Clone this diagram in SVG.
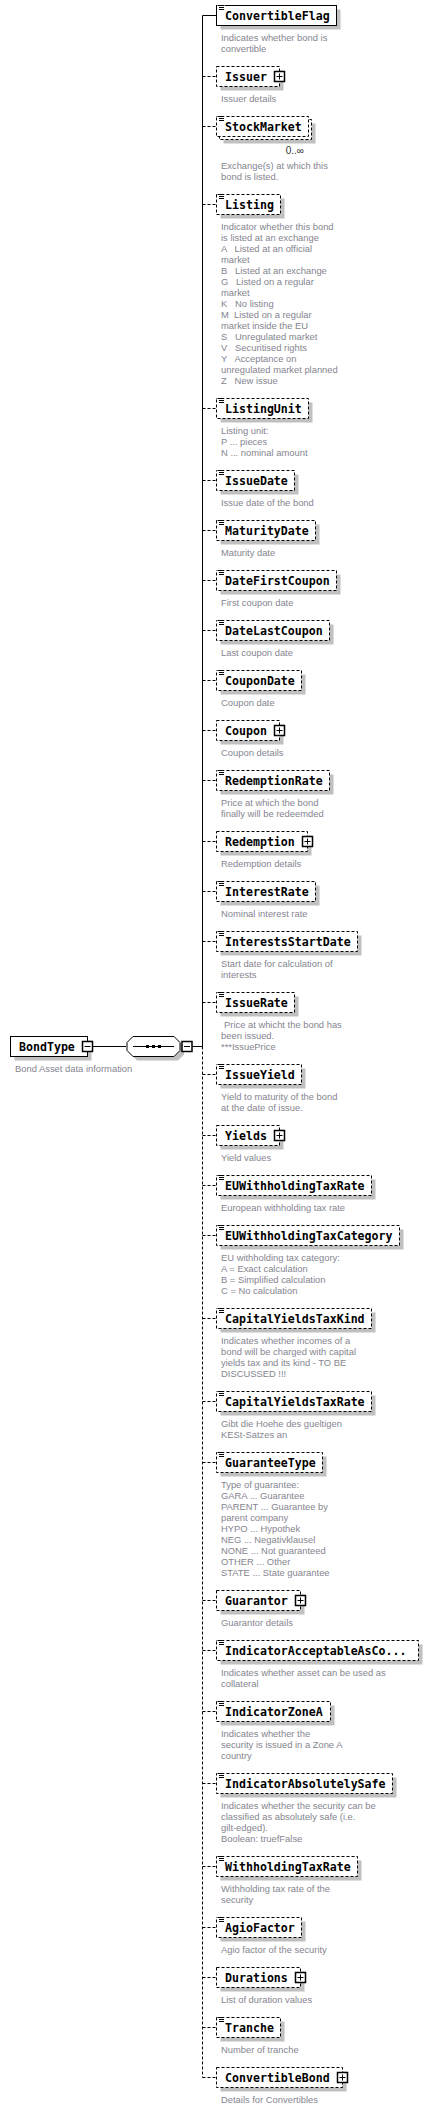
<svg xmlns="http://www.w3.org/2000/svg" xmlns:xlink="http://www.w3.org/1999/xlink" width="432" height="2110" viewBox="0 0 432 2110">
<style>
.b{fill:#fff;stroke:#000;stroke-width:1}
.o{stroke-dasharray:3,2}
.sh{fill:#c0c0c0}
.l{font-family:"DejaVu Sans Mono",monospace;font-weight:bold;font-size:11.6px;fill:#000}
.d{font-family:"Liberation Sans",Arial,sans-serif;font-size:9.4px;fill:#858590}
.occ{font-family:"Liberation Sans",Arial,sans-serif;font-size:10px;fill:#333}
.c{fill:none;stroke:#000;stroke-width:1}
.cd{fill:none;stroke:#000;stroke-width:1;stroke-dasharray:3,2}
</style>
<defs>
<g id="doc"><rect x="1" y="-0.5" width="7" height="5.5" fill="#fff"/><path d="M1.5,0H7.5M2.5,2H7.5M2.5,4H7.5" stroke="#000" stroke-width="1"/></g>
<g id="plus"><rect x="-5" y="-5" width="10" height="10" fill="#fff" stroke="#000" stroke-width="1.5"/><path d="M-3,0H3M0,-3V3" stroke="#000" stroke-width="1"/></g>
<g id="minus"><rect x="-5" y="-5" width="10" height="10" fill="#fff" stroke="#000" stroke-width="1.5"/><path d="M-3,0H3" stroke="#000" stroke-width="1"/></g>
</defs>

<g id="connectors">
<path class="c" d="M202.5,15.5V1046.5"/>
<path class="cd" d="M202.5,1046.5V2077.5"/>
<path class="c" d="M202.5,15.5H216.5"/>
<path class="cd" d="M202.5,76.5H216.5M202.5,126.5H216.5M202.5,204.5H216.5M202.5,408.5H216.5M202.5,480.5H216.5M202.5,530.5H216.5M202.5,580.5H216.5M202.5,630.5H216.5M202.5,680.5H216.5M202.5,730.5H216.5M202.5,780.5H216.5M202.5,841.5H216.5M202.5,891.5H216.5M202.5,941.5H216.5M202.5,1002.5H216.5M202.5,1074.5H216.5M202.5,1135.5H216.5M202.5,1185.5H216.5M202.5,1235.5H216.5M202.5,1318.5H216.5M202.5,1401.5H216.5M202.5,1462.5H216.5M202.5,1600.5H216.5M202.5,1650.5H216.5M202.5,1711.5H216.5M202.5,1783.5H216.5M202.5,1866.5H216.5M202.5,1927.5H216.5M202.5,1977.5H216.5M202.5,2027.5H216.5M202.5,2077.5H216.5"/>
<path class="c" d="M92.5,1046.5H126M192,1046.5H202.5"/>
</g>

<g id="n-BondType">
<rect class="sh" x="14.5" y="1040.5" width="77" height="20"/>
<rect class="b" x="10.5" y="1036.5" width="77" height="20"/>
<text class="l" x="19" y="1051">BondType</text>
<use xlink:href="#minus" x="87.5" y="1046.5"/>
<text class="d" x="15" y="1071.5">Bond Asset data information</text>
</g>

<g id="sequence">
<path class="sh" d="M137,1040.5H178L184,1046.5V1054.5L178,1060.5H137L131,1054.5V1046.5Z"/>
<path class="b" d="M133,1036.5H174L180,1042.5V1050.5L174,1056.5H133L127,1050.5V1042.5Z"/>
<path d="M133,1046.5H174" stroke="#000" stroke-width="1"/>
<rect x="146" y="1045" width="3" height="3" fill="#000"/>
<rect x="152" y="1045" width="3" height="3" fill="#000"/>
<rect x="158" y="1045" width="3" height="3" fill="#000"/>
<use xlink:href="#minus" x="187" y="1046.5"/>
</g>

<g id="n-ConvertibleFlag">
<rect class="sh" x="220.5" y="9.5" width="120" height="20"/>
<rect class="b" x="216.5" y="5.5" width="120" height="20"/>
<use xlink:href="#doc" x="216.5" y="5.5"/>
<text class="l" x="225" y="20">ConvertibleFlag</text>
<text class="d" x="221" y="40.5">Indicates whether bond is</text>
<text class="d" x="221" y="51.5">convertible</text>
</g>

<g id="n-Issuer">
<rect class="sh" x="220.5" y="70.5" width="63" height="20"/>
<rect class="b o" x="216.5" y="66.5" width="63" height="20"/>
<text class="l" x="225" y="81">Issuer</text>
<use xlink:href="#plus" x="279.5" y="76.5"/>
<text class="d" x="221" y="101.5">Issuer details</text>
</g>

<g id="n-StockMarket">
<rect class="sh" x="223.5" y="123.5" width="92" height="20"/>
<rect class="b o" x="219.5" y="119.5" width="92" height="20"/>
<rect class="b o" x="216.5" y="116.5" width="92" height="20"/>
<use xlink:href="#doc" x="216.5" y="116.5"/>
<text class="l" x="225" y="131">StockMarket</text>
<text class="occ" x="304" y="154" text-anchor="end">0..∞</text>
<text class="d" x="221" y="168.5">Exchange(s) at which this</text>
<text class="d" x="221" y="179.5">bond is listed.</text>
</g>

<g id="n-Listing">
<rect class="sh" x="220.5" y="198.5" width="64" height="20"/>
<rect class="b o" x="216.5" y="194.5" width="64" height="20"/>
<use xlink:href="#doc" x="216.5" y="194.5"/>
<text class="l" x="225" y="209">Listing</text>
<text class="d" x="221" y="229.5">Indicator whether this bond</text>
<text class="d" x="221" y="240.5">is listed at an exchange</text>
<text class="d" x="221" y="251.5" xml:space="preserve">A   Listed at an official</text>
<text class="d" x="221" y="262.5">market</text>
<text class="d" x="221" y="273.5" xml:space="preserve">B   Listed at an exchange</text>
<text class="d" x="221" y="284.5" xml:space="preserve">G   Listed on a regular</text>
<text class="d" x="221" y="295.5">market</text>
<text class="d" x="221" y="306.5" xml:space="preserve">K   No listing</text>
<text class="d" x="221" y="317.5" xml:space="preserve">M  Listed on a regular</text>
<text class="d" x="221" y="328.5">market inside the EU</text>
<text class="d" x="221" y="339.5" xml:space="preserve">S   Unregulated market</text>
<text class="d" x="221" y="350.5" xml:space="preserve">V   Securitised rights</text>
<text class="d" x="221" y="361.5" xml:space="preserve">Y   Acceptance on</text>
<text class="d" x="221" y="372.5">unregulated market planned</text>
<text class="d" x="221" y="383.5" xml:space="preserve">Z   New issue</text>
</g>

<g id="n-ListingUnit">
<rect class="sh" x="220.5" y="402.5" width="92" height="20"/>
<rect class="b o" x="216.5" y="398.5" width="92" height="20"/>
<use xlink:href="#doc" x="216.5" y="398.5"/>
<text class="l" x="225" y="413">ListingUnit</text>
<text class="d" x="221" y="433.5">Listing unit:</text>
<text class="d" x="221" y="444.5">P ... pieces</text>
<text class="d" x="221" y="455.5">N ... nominal amount</text>
</g>

<g id="n-IssueDate">
<rect class="sh" x="220.5" y="474.5" width="78" height="20"/>
<rect class="b o" x="216.5" y="470.5" width="78" height="20"/>
<use xlink:href="#doc" x="216.5" y="470.5"/>
<text class="l" x="225" y="485">IssueDate</text>
<text class="d" x="221" y="505.5">Issue date of the bond</text>
</g>

<g id="n-MaturityDate">
<rect class="sh" x="220.5" y="524.5" width="99" height="20"/>
<rect class="b o" x="216.5" y="520.5" width="99" height="20"/>
<use xlink:href="#doc" x="216.5" y="520.5"/>
<text class="l" x="225" y="535">MaturityDate</text>
<text class="d" x="221" y="555.5">Maturity date</text>
</g>

<g id="n-DateFirstCoupon">
<rect class="sh" x="220.5" y="574.5" width="120" height="20"/>
<rect class="b o" x="216.5" y="570.5" width="120" height="20"/>
<use xlink:href="#doc" x="216.5" y="570.5"/>
<text class="l" x="225" y="585">DateFirstCoupon</text>
<text class="d" x="221" y="605.5">First coupon date</text>
</g>

<g id="n-DateLastCoupon">
<rect class="sh" x="220.5" y="624.5" width="113" height="20"/>
<rect class="b o" x="216.5" y="620.5" width="113" height="20"/>
<use xlink:href="#doc" x="216.5" y="620.5"/>
<text class="l" x="225" y="635">DateLastCoupon</text>
<text class="d" x="221" y="655.5">Last coupon date</text>
</g>

<g id="n-CouponDate">
<rect class="sh" x="220.5" y="674.5" width="85" height="20"/>
<rect class="b o" x="216.5" y="670.5" width="85" height="20"/>
<use xlink:href="#doc" x="216.5" y="670.5"/>
<text class="l" x="225" y="685">CouponDate</text>
<text class="d" x="221" y="705.5">Coupon date</text>
</g>

<g id="n-Coupon">
<rect class="sh" x="220.5" y="724.5" width="63" height="20"/>
<rect class="b o" x="216.5" y="720.5" width="63" height="20"/>
<text class="l" x="225" y="735">Coupon</text>
<use xlink:href="#plus" x="279.5" y="730.5"/>
<text class="d" x="221" y="755.5">Coupon details</text>
</g>

<g id="n-RedemptionRate">
<rect class="sh" x="220.5" y="774.5" width="113" height="20"/>
<rect class="b o" x="216.5" y="770.5" width="113" height="20"/>
<use xlink:href="#doc" x="216.5" y="770.5"/>
<text class="l" x="225" y="785">RedemptionRate</text>
<text class="d" x="221" y="805.5">Price at which the bond</text>
<text class="d" x="221" y="816.5">finally will be redeemded</text>
</g>

<g id="n-Redemption">
<rect class="sh" x="220.5" y="835.5" width="91" height="20"/>
<rect class="b o" x="216.5" y="831.5" width="91" height="20"/>
<text class="l" x="225" y="846">Redemption</text>
<use xlink:href="#plus" x="307.5" y="841.5"/>
<text class="d" x="221" y="866.5">Redemption details</text>
</g>

<g id="n-InterestRate">
<rect class="sh" x="220.5" y="885.5" width="99" height="20"/>
<rect class="b o" x="216.5" y="881.5" width="99" height="20"/>
<use xlink:href="#doc" x="216.5" y="881.5"/>
<text class="l" x="225" y="896">InterestRate</text>
<text class="d" x="221" y="916.5">Nominal interest rate</text>
</g>

<g id="n-InterestsStartDate">
<rect class="sh" x="220.5" y="935.5" width="141" height="20"/>
<rect class="b o" x="216.5" y="931.5" width="141" height="20"/>
<use xlink:href="#doc" x="216.5" y="931.5"/>
<text class="l" x="225" y="946">InterestsStartDate</text>
<text class="d" x="221" y="966.5">Start date for calculation of</text>
<text class="d" x="221" y="977.5">interests</text>
</g>

<g id="n-IssueRate">
<rect class="sh" x="220.5" y="996.5" width="78" height="20"/>
<rect class="b o" x="216.5" y="992.5" width="78" height="20"/>
<use xlink:href="#doc" x="216.5" y="992.5"/>
<text class="l" x="225" y="1007">IssueRate</text>
<text class="d" x="224" y="1027.5">Price at whicht the bond has</text>
<text class="d" x="221" y="1038.5">been issued.</text>
<text class="d" x="221" y="1049.5">***IssuePrice</text>
</g>

<g id="n-IssueYield">
<rect class="sh" x="220.5" y="1068.5" width="85" height="20"/>
<rect class="b o" x="216.5" y="1064.5" width="85" height="20"/>
<use xlink:href="#doc" x="216.5" y="1064.5"/>
<text class="l" x="225" y="1079">IssueYield</text>
<text class="d" x="221" y="1099.5">Yield to maturity of the bond</text>
<text class="d" x="221" y="1110.5">at the date of issue.</text>
</g>

<g id="n-Yields">
<rect class="sh" x="220.5" y="1129.5" width="63" height="20"/>
<rect class="b o" x="216.5" y="1125.5" width="63" height="20"/>
<text class="l" x="225" y="1140">Yields</text>
<use xlink:href="#plus" x="279.5" y="1135.5"/>
<text class="d" x="221" y="1160.5">Yield values</text>
</g>

<g id="n-EUWithholdingTaxRate">
<rect class="sh" x="220.5" y="1179.5" width="155" height="20"/>
<rect class="b o" x="216.5" y="1175.5" width="155" height="20"/>
<use xlink:href="#doc" x="216.5" y="1175.5"/>
<text class="l" x="225" y="1190">EUWithholdingTaxRate</text>
<text class="d" x="221" y="1210.5">European withholding tax rate</text>
</g>

<g id="n-EUWithholdingTaxCategory">
<rect class="sh" x="220.5" y="1229.5" width="183" height="20"/>
<rect class="b o" x="216.5" y="1225.5" width="183" height="20"/>
<use xlink:href="#doc" x="216.5" y="1225.5"/>
<text class="l" x="225" y="1240">EUWithholdingTaxCategory</text>
<text class="d" x="221" y="1260.5">EU withholding tax category:</text>
<text class="d" x="221" y="1271.5">A = Exact calculation</text>
<text class="d" x="221" y="1282.5">B = Simplified calculation</text>
<text class="d" x="221" y="1293.5">C = No calculation</text>
</g>

<g id="n-CapitalYieldsTaxKind">
<rect class="sh" x="220.5" y="1312.5" width="155" height="20"/>
<rect class="b o" x="216.5" y="1308.5" width="155" height="20"/>
<use xlink:href="#doc" x="216.5" y="1308.5"/>
<text class="l" x="225" y="1323">CapitalYieldsTaxKind</text>
<text class="d" x="221" y="1343.5">Indicates whether incomes of a</text>
<text class="d" x="221" y="1354.5">bond will be charged with capital</text>
<text class="d" x="221" y="1365.5">yields tax and its kind - TO BE</text>
<text class="d" x="221" y="1376.5">DISCUSSED !!!</text>
</g>

<g id="n-CapitalYieldsTaxRate">
<rect class="sh" x="220.5" y="1395.5" width="155" height="20"/>
<rect class="b o" x="216.5" y="1391.5" width="155" height="20"/>
<use xlink:href="#doc" x="216.5" y="1391.5"/>
<text class="l" x="225" y="1406">CapitalYieldsTaxRate</text>
<text class="d" x="221" y="1426.5">Gibt die Hoehe des gueltigen</text>
<text class="d" x="221" y="1437.5">KESt-Satzes an</text>
</g>

<g id="n-GuaranteeType">
<rect class="sh" x="220.5" y="1456.5" width="106" height="20"/>
<rect class="b o" x="216.5" y="1452.5" width="106" height="20"/>
<use xlink:href="#doc" x="216.5" y="1452.5"/>
<text class="l" x="225" y="1467">GuaranteeType</text>
<text class="d" x="221" y="1487.5">Type of guarantee:</text>
<text class="d" x="221" y="1498.5">GARA ... Guarantee</text>
<text class="d" x="221" y="1509.5">PARENT ... Guarantee by</text>
<text class="d" x="221" y="1520.5">parent company</text>
<text class="d" x="221" y="1531.5">HYPO ... Hypothek</text>
<text class="d" x="221" y="1542.5">NEG ... Negativklausel</text>
<text class="d" x="221" y="1553.5">NONE ... Not guaranteed</text>
<text class="d" x="221" y="1564.5">OTHER ... Other</text>
<text class="d" x="221" y="1575.5">STATE ... State guarantee</text>
</g>

<g id="n-Guarantor">
<rect class="sh" x="220.5" y="1594.5" width="84" height="20"/>
<rect class="b o" x="216.5" y="1590.5" width="84" height="20"/>
<text class="l" x="225" y="1605">Guarantor</text>
<use xlink:href="#plus" x="300.5" y="1600.5"/>
<text class="d" x="221" y="1625.5">Guarantor details</text>
</g>

<g id="n-IndicatorAcceptableAsCollateral">
<rect class="sh" x="220.5" y="1644.5" width="202" height="20"/>
<rect class="b o" x="216.5" y="1640.5" width="202" height="20"/>
<use xlink:href="#doc" x="216.5" y="1640.5"/>
<text class="l" x="225" y="1655">IndicatorAcceptableAsCo...</text>
<text class="d" x="221" y="1675.5">Indicates whether asset can be used as</text>
<text class="d" x="221" y="1686.5">collateral</text>
</g>

<g id="n-IndicatorZoneA">
<rect class="sh" x="220.5" y="1705.5" width="114" height="20"/>
<rect class="b o" x="216.5" y="1701.5" width="114" height="20"/>
<use xlink:href="#doc" x="216.5" y="1701.5"/>
<text class="l" x="225" y="1716">IndicatorZoneA</text>
<text class="d" x="221" y="1736.5">Indicates whether the</text>
<text class="d" x="221" y="1747.5">security is issued in a Zone A</text>
<text class="d" x="221" y="1758.5">country</text>
</g>

<g id="n-IndicatorAbsolutelySafe">
<rect class="sh" x="220.5" y="1777.5" width="176" height="20"/>
<rect class="b o" x="216.5" y="1773.5" width="176" height="20"/>
<use xlink:href="#doc" x="216.5" y="1773.5"/>
<text class="l" x="225" y="1788">IndicatorAbsolutelySafe</text>
<text class="d" x="221" y="1808.5">Indicates whether the security can be</text>
<text class="d" x="221" y="1819.5">classified as absolutely safe (i.e.</text>
<text class="d" x="221" y="1830.5">gilt-edged).</text>
<text class="d" x="221" y="1841.5">Boolean: truefFalse</text>
</g>

<g id="n-WithholdingTaxRate">
<rect class="sh" x="220.5" y="1860.5" width="141" height="20"/>
<rect class="b o" x="216.5" y="1856.5" width="141" height="20"/>
<use xlink:href="#doc" x="216.5" y="1856.5"/>
<text class="l" x="225" y="1871">WithholdingTaxRate</text>
<text class="d" x="221" y="1891.5">Withholding tax rate of the</text>
<text class="d" x="221" y="1902.5">security</text>
</g>

<g id="n-AgioFactor">
<rect class="sh" x="220.5" y="1921.5" width="85" height="20"/>
<rect class="b o" x="216.5" y="1917.5" width="85" height="20"/>
<use xlink:href="#doc" x="216.5" y="1917.5"/>
<text class="l" x="225" y="1932">AgioFactor</text>
<text class="d" x="221" y="1952.5">Agio factor of the security</text>
</g>

<g id="n-Durations">
<rect class="sh" x="220.5" y="1971.5" width="84" height="20"/>
<rect class="b o" x="216.5" y="1967.5" width="84" height="20"/>
<text class="l" x="225" y="1982">Durations</text>
<use xlink:href="#plus" x="300.5" y="1977.5"/>
<text class="d" x="221" y="2002.5">List of duration values</text>
</g>

<g id="n-Tranche">
<rect class="sh" x="220.5" y="2021.5" width="64" height="20"/>
<rect class="b o" x="216.5" y="2017.5" width="64" height="20"/>
<use xlink:href="#doc" x="216.5" y="2017.5"/>
<text class="l" x="225" y="2032">Tranche</text>
<text class="d" x="221" y="2052.5">Number of tranche</text>
</g>

<g id="n-ConvertibleBond">
<rect class="sh" x="220.5" y="2071.5" width="126" height="20"/>
<rect class="b o" x="216.5" y="2067.5" width="126" height="20"/>
<text class="l" x="225" y="2082">ConvertibleBond</text>
<use xlink:href="#plus" x="342.5" y="2077.5"/>
<text class="d" x="221" y="2102.5">Details for Convertibles</text>
</g>
</svg>
